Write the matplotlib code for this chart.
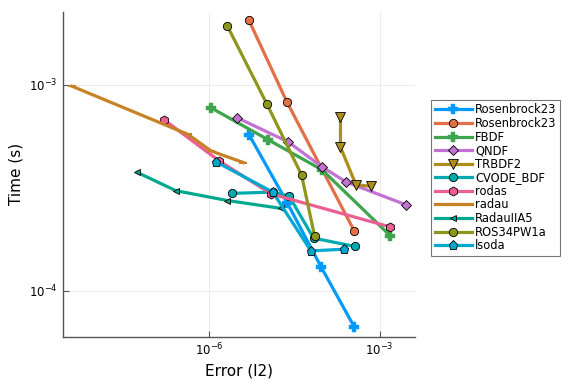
import matplotlib
matplotlib.use("Agg")
import matplotlib.pyplot as plt

# work-precision data: error (l2) vs time (s)
ros23_a_err = [5.06e-6, 2.37e-5, 9.4e-5, 3.58e-4]
ros23_a_time = [5.71e-4, 2.67e-4, 1.30e-4, 6.67e-5]
ros23_b_err = [5.0e-6, 2.33e-5, 3.58e-4]
ros23_b_time = [2.06e-3, 8.27e-4, 1.95e-4]
fbdf_err = [1.08e-6, 1.09e-5, 9.77e-5, 1.54e-3]
fbdf_time = [7.73e-4, 5.41e-4, 3.86e-4, 1.85e-4]
qndf_err = [3.11e-6, 2.46e-5, 9.77e-5, 2.59e-4, 2.95e-3]
qndf_time = [6.92e-4, 5.28e-4, 3.99e-4, 3.37e-4, 2.61e-4]
trbdf2_err = [2.05e-4, 2.05e-4, 3.84e-4, 7.21e-4]
trbdf2_time = [6.97e-4, 4.98e-4, 3.27e-4, 3.21e-4]
cvode_err = [2.57e-6, 1.32e-5, 2.56e-5, 6.87e-5, 3.68e-4]
cvode_time = [2.97e-4, 3.01e-4, 2.88e-4, 1.80e-4, 1.64e-4]
rodas_err = [1.61e-7, 1.50e-6, 1.24e-5, 1.54e-3]
rodas_time = [6.76e-4, 4.27e-4, 2.95e-4, 2.04e-4]
radau_err = [3.86e-9, 4.27e-7, 1.08e-6, 4.02e-6]
radau_time = [9.84e-4, 5.74e-4, 4.77e-4, 4.19e-4]
radauiia5_err = [5.46e-8, 2.59e-7, 2.10e-6, 1.85e-5]
radauiia5_time = [3.75e-4, 3.06e-4, 2.74e-4, 2.51e-4]
ros34_err = [2.07e-6, 1.04e-5, 4.23e-5, 7.16e-5]
ros34_time = [1.94e-3, 8.06e-4, 3.65e-4, 1.85e-4]
lsoda_err = [1.31e-6, 1.32e-5, 6.18e-5, 2.39e-4]
lsoda_time = [4.23e-4, 3.01e-4, 1.56e-4, 1.59e-4]

series = [
    ("Rosenbrock23", ros23_a_err, ros23_a_time, "#009AFA", "P", 7),
    ("Rosenbrock23", ros23_b_err, ros23_b_time, "#E36F47", "o", 6),
    ("FBDF", fbdf_err, fbdf_time, "#3EA44E", "P", 7),
    ("QNDF", qndf_err, qndf_time, "#C371D2", "D", 5),
    ("TRBDF2", trbdf2_err, trbdf2_time, "#AC8E18", "v", 7),
    ("CVODE_BDF", cvode_err, cvode_time, "#00AAAE", "o", 6),
    ("rodas", rodas_err, rodas_time, "#ED5E93", "h", 6.5),
    ("radau", radau_err, radau_time, "#C68225", "_", 6),
    ("RadauIIA5", radauiia5_err, radauiia5_time, "#00A98D", "<", 4),
    ("ROS34PW1a", ros34_err, ros34_time, "#8E971D", "o", 6),
    ("lsoda", lsoda_err, lsoda_time, "#00A9CD", "p", 6.5),
]

fig = plt.figure(figsize=(5.76, 3.84), dpi=100)
ax = fig.add_axes([0.109, 0.123, 0.612, 0.847])

for name, err, tm, col, mk, ms in series:
    if mk in ("P", "_"):
        ax.plot(err, tm, color=col, lw=2.3, marker=mk, ms=ms, mfc=col,
                mec=col, mew=1.5 if mk == "_" else 0.3, label=name)
    else:
        ax.plot(err, tm, color=col, lw=2.3, marker=mk, ms=ms, mfc=col,
                mec="black", mew=0.6, label=name)

ax.set_xscale("log")
ax.set_yscale("log")
ax.set_xlim(10 ** -8.577, 10 ** -2.371)
ax.set_ylim(10 ** -4.224, 10 ** -2.644)
ax.set_xticks([1e-6, 1e-3])
ax.set_yticks([1e-4, 1e-3])
ax.minorticks_off()
ax.tick_params(direction="in", length=4, width=0.8, colors="#555555",
               labelcolor="black", labelsize=8.5)
ax.grid(True, color="#e8e8e8", lw=0.6)
ax.set_axisbelow(True)
for s in ("top", "right"):
    ax.spines[s].set_visible(False)
for s in ("left", "bottom"):
    ax.spines[s].set_color("#555555")
    ax.spines[s].set_linewidth(1.0)

ax.set_xlabel("Error (l2)", fontsize=11)
ax.set_ylabel("Time (s)", fontsize=11)

leg = ax.legend(loc="upper left", bbox_to_anchor=(1.045, 0.728), fontsize=8.3,
                frameon=True, fancybox=False, edgecolor="#555555",
                handlelength=3.2, labelspacing=0.05, borderpad=0.3,
                handletextpad=0.3, borderaxespad=0)
leg.get_frame().set_linewidth(0.8)

fig.savefig("out.png", dpi=100)
